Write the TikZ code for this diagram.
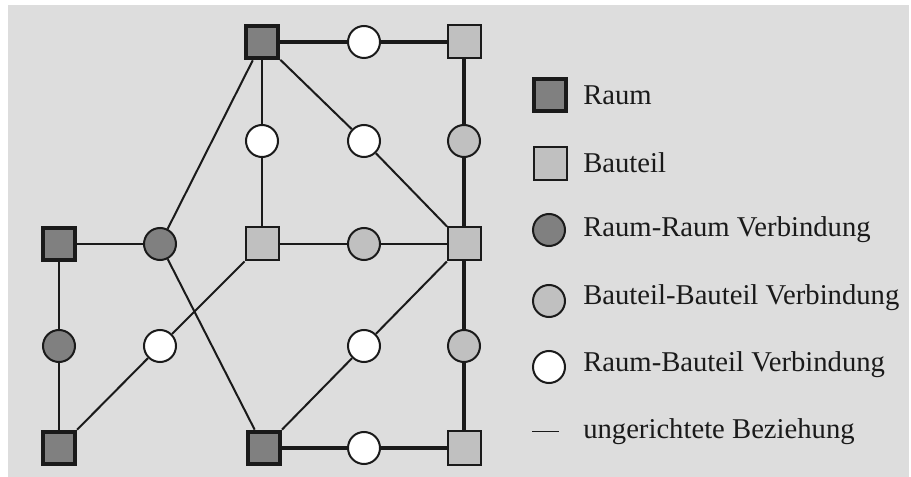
\documentclass[tikz,border=0pt]{standalone}
\usepackage{fontspec}
\setmainfont{Liberation Serif}
\definecolor{bg}{HTML}{DDDDDD}
\definecolor{ink}{HTML}{1A1A1A}
\definecolor{raumfill}{HTML}{808080}
\definecolor{bauteilfill}{HTML}{C0C0C0}
\tikzset{
  raum/.style={draw=ink, line width=3pt, fill=raumfill, rectangle, minimum size=24.5pt, inner sep=0pt},
  bauteil/.style={draw=ink, line width=1.5pt, fill=bauteilfill, rectangle, minimum size=24.75pt, inner sep=0pt},
  rrcon/.style={draw=ink, line width=1.5pt, fill=raumfill, circle, minimum size=24pt, inner sep=0pt},
  bbcon/.style={draw=ink, line width=1.5pt, fill=bauteilfill, circle, minimum size=24pt, inner sep=0pt},
  rbcon/.style={draw=ink, line width=1.5pt, fill=white, circle, minimum size=24pt, inner sep=0pt},
  thickedge/.style={draw=ink, line width=3pt},
  mededge/.style={draw=ink, line width=1.5pt},
  thinedge/.style={draw=ink, line width=0.8pt},
  legtext/.style={anchor=base west, inner sep=0pt, font=\fontsize{21.5pt}{24pt}\selectfont, text=ink}
}
\begin{document}
\begin{tikzpicture}[x=0.75pt,y=-0.75pt]
\useasboundingbox (0,0) rectangle (911,477);
\fill[white] (0,0) rectangle (911,477);
\fill[bg] (8,5) rectangle (909,477);

% graph nodes
\node[raum] (R1) at (262,42) {};
\node[rbcon] (W1) at (364,42) {};
\node[bauteil] (B1) at (464,42) {};
\node[rbcon] (W2) at (262,141) {};
\node[rbcon] (W3) at (364,141) {};
\node[bbcon] (G1) at (464,141) {};
\node[raum] (RL) at (59,244) {};
\node[rrcon] (D1) at (160,244) {};
\node[bauteil] (Bc) at (262,244) {};
\node[bbcon] (G2) at (364,244) {};
\node[bauteil] (Bm) at (464,244) {};
\node[rrcon] (D2) at (59,346) {};
\node[rbcon] (W4) at (160,346) {};
\node[rbcon] (W5) at (364,346) {};
\node[bbcon] (G3) at (464,346) {};
\node[raum] (RBL) at (59,448) {};
\node[raum] (R3) at (264,448) {};
\node[rbcon] (W6) at (364,448) {};
\node[bauteil] (B3) at (464,448) {};

% edges
\draw[thickedge] (R1) -- (W1) -- (B1);
\draw[thickedge] (B1) -- (G1) -- (Bm) -- (G3) -- (B3);
\draw[thickedge] (R3) -- (W6) -- (B3);
\draw[thinedge] (R1) -- (W2) -- (Bc);
\draw[mededge] (R1) -- (W3) -- (Bm);
\draw[mededge] (R1) -- (D1) -- (R3);
\draw[thinedge] (RL) -- (D1);
\draw[thinedge] (Bc) -- (G2) -- (Bm);
\draw[mededge] (RL) -- (D2) -- (RBL);
\draw[mededge] (RBL) -- (W4) -- (Bc);
\draw[mededge] (R3) -- (W5) -- (Bm);

% legend
\node[raum] (L1) at (550,95) {};
\node[legtext] (T1) at (583,105) {Raum};
\node[bauteil] (L2) at (550,164) {};
\node[legtext] (T2) at (583,173) {Bauteil};
\node[rrcon] (L3) at (549,230) {};
\node[legtext] (T3) at (583,237) {Raum-Raum Verbindung};
\node[bbcon] (L4) at (549,301) {};
\node[legtext] (T4) at (583,305) {Bauteil-Bauteil Verbindung};
\node[rbcon] (L5) at (549,367) {};
\node[legtext] (T5) at (583,372) {Raum-Bauteil Verbindung};
\coordinate (La) at (532,432);
\coordinate (Lb) at (559,432);
\draw[ink, line width=0.75pt] (La) -- (Lb);
\node[legtext] (T6) at (583,438) {ungerichtete Beziehung};
\end{tikzpicture}
\end{document}
